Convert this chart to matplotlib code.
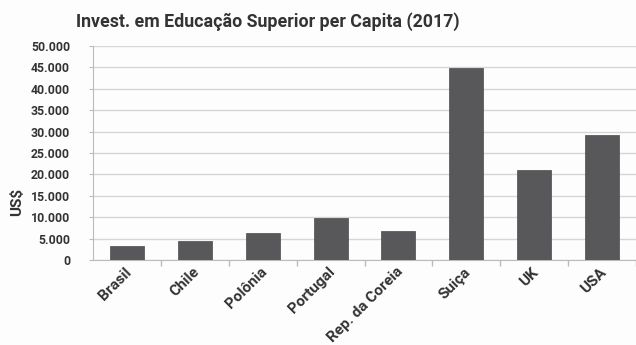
import matplotlib
matplotlib.use("Agg")
import matplotlib.pyplot as plt
from matplotlib.transforms import ScaledTranslation

categories = ["Brasil", "Chile", "Polônia", "Portugal", "Rep. da Coreia", "Suiça", "UK", "USA"]
values = [3300, 4400, 6200, 9700, 6800, 44800, 21000, 29100]
yticks = [0, 5000, 10000, 15000, 20000, 25000, 30000, 35000, 40000, 45000, 50000]

plt.rcParams['font.family'] = ['Roboto', 'Liberation Sans', 'DejaVu Sans']

fig = plt.figure(figsize=(6.36, 3.45), dpi=100, facecolor="#fdfdfd")
ax = fig.add_axes([93/636, 1-260/345, 1-93/636, 214/345])
ax.set_facecolor("#fdfdfd")

x = list(range(len(categories)))
ax.bar(x, values, width=0.5, color="#58585a", edgecolor="#4a4a4a", linewidth=0.5, zorder=3)

ax.set_xlim(-0.5, 7.415)
ax.set_ylim(0, 50000)
ax.set_yticks(yticks)
ax.set_yticklabels(["0" if v == 0 else f"{int(v):,}".replace(",", ".") for v in yticks],
                   fontsize=8.8, fontweight="bold", color="#333333")
ax.grid(axis="y", color="#d6d6d6", linewidth=1.0, zorder=0)

ax.set_xticks([i + 0.5 for i in range(len(categories))], minor=False)
ax.set_xticklabels([])
ax.set_xticks(x, minor=True)
ax.set_xticklabels(categories, minor=True, rotation=45, ha="right", rotation_mode="anchor",
                   fontsize=11, fontweight="bold", color="#333333")
ax.tick_params(axis="x", which="minor", length=0, pad=2)
ax.tick_params(axis="x", which="major", length=4, color="#bbbbbb", width=1)
ax.tick_params(axis="y", which="major", length=3, color="#bbbbbb", pad=2)

shift = ScaledTranslation(-16/100, 0, fig.dpi_scale_trans)
for lab in ax.get_yticklabels():
    lab.set_transform(lab.get_transform() + shift)
xshift = ScaledTranslation(-3/100, -2/100, fig.dpi_scale_trans)
for lab in ax.get_xticklabels(minor=True):
    lab.set_transform(lab.get_transform() + xshift)

for s in ["top", "right"]:
    ax.spines[s].set_visible(False)
ax.spines["left"].set_color("#bbbbbb")
ax.spines["bottom"].set_color("#bbbbbb")

fig.text(17/636, 1-202/345, "US$", rotation=90, ha="center", va="center",
         fontsize=11, fontweight="bold", color="#333333")

fig.text(268/636, 1-22/345, "Invest. em Educação Superior per Capita (2017)", ha="center", va="center",
         fontsize=12.8, fontweight="bold", color="#333333")

fig.savefig("out.png", dpi=100, facecolor=fig.get_facecolor())
